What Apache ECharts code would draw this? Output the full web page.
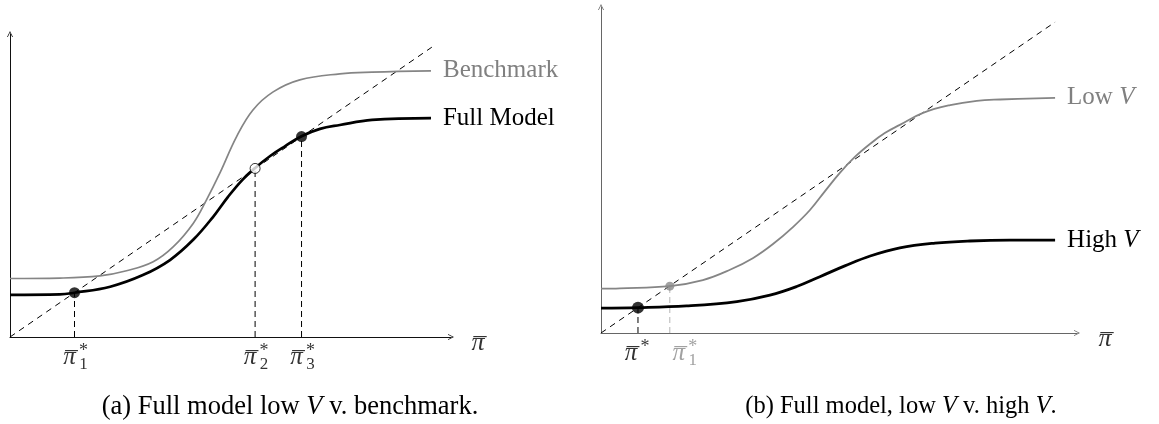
<!DOCTYPE html>
<html><head><meta charset="utf-8">
<script src="https://cdn.jsdelivr.net/npm/echarts/dist/echarts.min.js"></script>
<style>html,body{margin:0;padding:0;background:#fff}#c{width:1159px;height:424px}</style>
</head><body><div id="c"></div>
<script>
const SERIF = "'Liberation Serif','DejaVu Serif',serif";

// ---------- panel (a) ----------
const aDiagonal = [[0, 0], [9.81, 6.74]];
const aBenchmark = [[0,1.36],[1.16,1.37],[2.09,1.42],[2.71,1.54],[3.33,1.75],[3.80,2.10],[4.26,2.64],[4.57,3.19],[4.88,3.81],[5.27,4.66],[5.65,5.28],[6.12,5.70],[6.74,5.98],[7.67,6.12],[8.42,6.16],[9.79,6.19]];
const aFullModel = [[0,0.98],[1.16,0.99],[1.50,1.03],[2.33,1.17],[3.09,1.44],[3.72,1.79],[4.26,2.26],[4.72,2.79],[5.07,3.26],[5.40,3.65],[5.70,3.93],[6.05,4.21],[6.40,4.44],[6.78,4.67],[7.21,4.84],[7.67,4.93],[8.42,5.05],[9.79,5.09]];
const aEquilibriaX = [1.50, 5.70, 6.78];
const aEquilibriaY = [1.03, 3.92, 4.66];
const aStable = [true, false, true];
const aTickSub = ['1', '2', '3'];
const aCaption = '(a) Full model low {i|V} v. benchmark.';

// ---------- panel (b) ----------
const bDiagonal = [[0, 0], [10.56, 7.23]];
const bLowV = [[0,1.03],[0.44,1.04],[1.60,1.09],[2.37,1.23],[3.00,1.47],[3.53,1.74],[4.00,2.07],[4.47,2.47],[4.86,2.86],[5.21,3.30],[5.56,3.73],[5.91,4.10],[6.26,4.40],[6.60,4.65],[6.95,4.84],[7.49,5.12],[8.12,5.30],[8.74,5.40],[9.28,5.43],[10.56,5.47]];
const bHighV = [[0,0.58],[0.86,0.59],[1.99,0.63],[3.16,0.73],[3.93,0.88],[4.55,1.08],[5.09,1.31],[5.67,1.56],[6.26,1.79],[6.95,1.98],[7.77,2.09],[8.58,2.14],[9.51,2.16],[10.56,2.16]];
const bEquilibriaX = [0.86, 1.60];
const bEquilibriaY = [0.59, 1.09];
const bTickSub = ['', '1'];
const bTickColor = ['#000', '#8a8a8a'];
const bCaption = '(b) Full model, low {i|V} v. high {i|V}.';

const GRAY = '#858585';
const ARROW = 'path://M0,10 L5,0 L10,10 L8.6,10 L5,2.6 L1.4,10 Z';

function axisPair(grid, xmax, ymax, color) {
  const line = { show: true, symbol: ['none', ARROW], symbolSize: [8, 6], lineStyle: { color: color, width: 1 } };
  return {
    x: { type: 'value', gridIndex: grid, min: 0, max: xmax, axisLine: line, axisTick: { show: false }, axisLabel: { show: false }, splitLine: { show: false } },
    y: { type: 'value', gridIndex: grid, min: 0, max: ymax, axisLine: line, axisTick: { show: false }, axisLabel: { show: false }, splitLine: { show: false } }
  };
}
const ax0 = axisPair(0, 441 / 43, 303 / 43, '#111');
const ax1 = axisPair(1, 476 / 43, 326 / 43, '#666');

function curve(idx, data, color, width, labelText, rich) {
  return {
    type: 'line', xAxisIndex: idx, yAxisIndex: idx, data: data, smooth: 0.4,
    showSymbol: false, silent: true, z: 3,
    lineStyle: { color: color, width: width },
    endLabel: { show: true, formatter: labelText, distance: 12, color: color === '#000' ? '#000' : '#808080',
      fontFamily: SERIF, fontSize: 25, rich: rich }
  };
}
function diag(idx, data) {
  return { type: 'line', xAxisIndex: idx, yAxisIndex: idx, data: data, showSymbol: false, silent: true, z: 2,
    lineStyle: { color: '#000', width: 1, type: [6, 5] } };
}
function drop(idx, x, y, color) {
  return { type: 'line', xAxisIndex: idx, yAxisIndex: idx, data: [[x, 0], [x, y]], showSymbol: false, silent: true, z: 2,
    lineStyle: { color: color, width: 1, type: [6, 4] } };
}
// a text mark anchored at (x, y) of an axis, moved by an offset in pixels
function textMarks(idx, pts, textFn, colors, dx, dy, size, italic) {
  return {
    type: 'scatter', xAxisIndex: idx, yAxisIndex: idx, symbolSize: 1, silent: true, z: 5,
    itemStyle: { color: 'transparent' },
    data: pts.map((p, i) => ({ value: p, label: { color: colors ? colors[i] : '#000',
      offset: [Array.isArray(dx) ? dx[i] : dx, dy] } })),
    label: { show: true, position: 'inside', fontFamily: SERIF, fontSize: size,
      fontStyle: italic ? 'italic' : 'normal', formatter: textFn }
  };
}
function piBar(idx, pts, colors, dx, dy, size) {
  // pi with a bar over it: the letter and the macron as two texts
  const dxs = Array.isArray(dx) ? dx : pts.map(() => dx);
  return [
    textMarks(idx, pts, () => '\u03C0', colors, dxs, dy, size, true),
    textMarks(idx, pts, () => '\u00AF', colors, dxs.map(v => v + 2), dy + 5, size, false)
  ];
}
function tickLabels(idx, xs, subs, colors, dxPi, dxSup) {
  const pts = xs.map(x => [x, 0]);
  return [
    ...piBar(idx, pts, colors, dxPi, 20, 25),
    textMarks(idx, pts, () => '*', colors, dxSup, 14, 18, false),
    textMarks(idx, pts, (p) => subs[p.dataIndex], colors, dxSup, 28, 17, false)
  ];
}

const italicRich = { i: { fontStyle: 'italic', fontFamily: SERIF, fontSize: 25 } };

const series = [
  diag(0, aDiagonal),
  ...aEquilibriaX.map((x, i) => drop(0, x, aEquilibriaY[i], '#000')),
  curve(0, aBenchmark, GRAY, 1.7, 'Benchmark'),
  curve(0, aFullModel, '#000', 2.7, 'Full Model'),
  { type: 'scatter', xAxisIndex: 0, yAxisIndex: 0, silent: true, z: 6,
    data: aEquilibriaX.map((x, i) => ({ value: [x, aEquilibriaY[i]], symbolSize: aStable[i] ? 11 : 10,
      itemStyle: aStable[i] ? { color: '#000' } : { color: '#fff', borderColor: '#000', borderWidth: 1 } })) },
  ...tickLabels(0, aEquilibriaX, aTickSub, null, -5, 9),
  ...piBar(0, [[441 / 43, 0]], null, 27, 6, 26),

  diag(1, bDiagonal),
  drop(1, bEquilibriaX[0], bEquilibriaY[0], '#000'),
  drop(1, bEquilibriaX[1], bEquilibriaY[1], '#b5b5b5'),
  curve(1, bLowV, GRAY, 1.8, '{g|Low }{gi|V}', { g: { color: '#808080', fontFamily: SERIF, fontSize: 25 }, gi: { color: '#808080', fontStyle: 'italic', fontFamily: SERIF, fontSize: 25 } }),
  curve(1, bHighV, '#000', 2.8, 'High {i|V}', italicRich),
  { type: 'scatter', xAxisIndex: 1, yAxisIndex: 1, silent: true, z: 6,
    data: bEquilibriaX.map((x, i) => ({ value: [x, bEquilibriaY[i]], symbolSize: i === 0 ? 12 : 9,
      itemStyle: { color: i === 0 ? '#000' : '#8a8a8a' } })) },
  ...tickLabels(1, bEquilibriaX, bTickSub, bTickColor, [-7, 9], [7, 23]),
  ...piBar(1, [[476 / 43, 0]], null, 28, 6, 26)
];

const chart = echarts.init(document.getElementById('c'), null, { renderer: 'canvas' });
chart.setOption({
  animation: false,
  backgroundColor: '#fff',
  grid: [
    { left: 10, top: 34, width: 441, height: 303 },
    { left: 601, top: 7, width: 476, height: 326 }
  ],
  xAxis: [ax0.x, ax1.x],
  yAxis: [ax0.y, ax1.y],
  series: series,
  graphic: [
    { type: 'text', x: 290, y: 407, silent: true,
      style: { text: aCaption, align: 'center', verticalAlign: 'middle', fontFamily: SERIF, fontSize: 26.5, fill: '#000',
        rich: { i: { fontStyle: 'italic', fontFamily: SERIF, fontSize: 26.5 } } } },
    { type: 'text', x: 901, y: 407, silent: true,
      style: { text: bCaption, align: 'center', verticalAlign: 'middle', fontFamily: SERIF, fontSize: 24.5, fill: '#000',
        rich: { i: { fontStyle: 'italic', fontFamily: SERIF, fontSize: 24.5 } } } }
  ]
});
</script></body></html>
